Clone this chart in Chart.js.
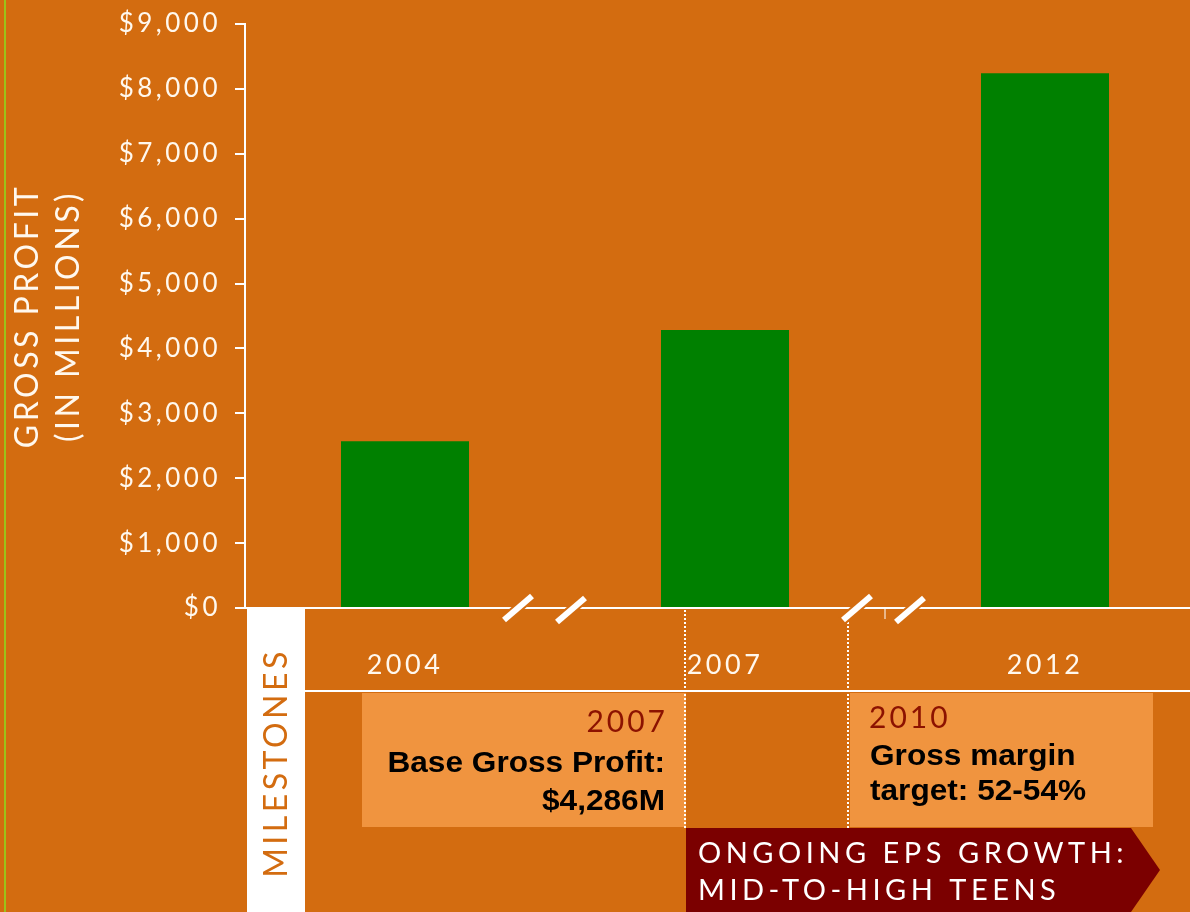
<!DOCTYPE html>
<html>
<head>
<meta charset="utf-8">
<script src="https://cdn.jsdelivr.net/npm/chart.js@4"></script>
<style>
	html, body { margin: 0; padding: 0; background: #D36C10; }
	canvas { display: block; }
</style>
</head>
<body>
<canvas id="profit-chart" width="1190" height="912"></canvas>
<script>
// Chart data
const years = ['2004', '2007', '2012'];
const grossProfit = [2570, 4286, 8240]; // $ millions
const yMax = 9000;
const yStep = 1000;
const axisTitle = ['GROSS PROFIT', '(IN MILLIONS)'];
const milestoneBase = ['2007', 'Base Gross Profit:', '$4,286M'];
const milestoneMargin = ['2010', 'Gross margin', 'target: 52-54%'];
const epsGrowth = ['ONGOING EPS GROWTH:', 'MID-TO-HIGH TEENS'];

const ORANGE = '#D36C10';
const LIGHT = '#F0943F';
const DARKRED = '#7B0000';
const CREAM = '#FFF8EE';
const FONT = 'Lato, "Open Sans", sans-serif';

// background + letter spacing for the thin caps font
const backdrop = {
	id: 'backdrop',
	beforeLayout(chart) {
		chart.ctx.letterSpacing = '3.5px';
	},
	afterLayout(chart) {
		// the x axis runs a bit past the right edge of the page
		const x = chart.scales.x;
		x.right = x.left + 960;
		x.width = 960;
		x.configure();
		// plot area starts right at the top tick
		const y = chart.scales.y;
		y.top = 24;
		y.height = y.bottom - y.top;
		y.configure();
		chart.chartArea.top = 24;
		chart.chartArea.height = chart.chartArea.bottom - 24;
	},
	beforeDraw(chart) {
		const ctx = chart.ctx;
		ctx.letterSpacing = '3.5px';
		ctx.save();
		ctx.fillStyle = ORANGE;
		ctx.fillRect(0, 0, chart.width, chart.height);
		// thin green rule at the far left
		ctx.fillStyle = '#9BC31A';
		ctx.fillRect(4, 0, 2, chart.height);
		ctx.restore();
	}
};

function slash(ctx, cx, cy) {
	ctx.lineCap = 'butt';
	ctx.strokeStyle = ORANGE;
	ctx.lineWidth = 10;
	ctx.beginPath();
	ctx.moveTo(cx - 15, cy + 13);
	ctx.lineTo(cx + 15, cy - 13);
	ctx.stroke();
	ctx.strokeStyle = '#FFFFFF';
	ctx.lineWidth = 6;
	ctx.beginPath();
	ctx.moveTo(cx - 14, cy + 12);
	ctx.lineTo(cx + 14, cy - 12);
	ctx.stroke();
}

function stretched(ctx, text, x, y, align, sx) {
	ctx.save();
	ctx.translate(x, y);
	ctx.scale(sx, 1);
	ctx.textAlign = align;
	ctx.fillText(text, 0, 0);
	ctx.restore();
}

// milestones band, boxes, arrow and axis breaks
const milestones = {
	id: 'milestones',
	afterDraw(chart) {
		const ctx = chart.ctx;
		const x = chart.scales.x;
		const area = chart.chartArea;
		const base = area.bottom;
		const W = chart.width, H = chart.height;
		ctx.save();

		// band bottom rule
		ctx.fillStyle = '#FFFFFF';
		ctx.fillRect(305, 690, W - 305, 2);

		// white panel with MILESTONES
		ctx.fillRect(247, base + 1, 58, H - base);
		ctx.save();
		ctx.translate(277, 765);
		ctx.rotate(-Math.PI / 2);
		ctx.letterSpacing = '3.5px';
		ctx.fillStyle = ORANGE;
		ctx.font = '32px ' + FONT;
		ctx.textAlign = 'center';
		ctx.textBaseline = 'middle';
		ctx.fillText('MILESTONES', 2, 0);
		ctx.restore();

		// light boxes
		ctx.fillStyle = LIGHT;
		ctx.fillRect(362, 693, 324, 134);
		ctx.fillRect(850, 693, 303, 134);

		// arrow
		ctx.fillStyle = DARKRED;
		ctx.beginPath();
		ctx.moveTo(686, 828);
		ctx.lineTo(1131, 828);
		ctx.lineTo(1160, 870);
		ctx.lineTo(1131, 912);
		ctx.lineTo(686, 912);
		ctx.closePath();
		ctx.fill();

		// dotted guides
		ctx.strokeStyle = '#FFFFFF';
		ctx.lineWidth = 2;
		ctx.setLineDash([2, 2]);
		ctx.beginPath();
		ctx.moveTo(685, base + 2);
		ctx.lineTo(685, 828);
		ctx.moveTo(848, base + 14);
		ctx.lineTo(848, 828);
		ctx.stroke();
		ctx.setLineDash([]);

		// axis breaks
		const b1 = (x.getPixelForValue(0) + x.getPixelForValue(1)) / 2;
		const b2 = (x.getPixelForValue(1) + x.getPixelForValue(2)) / 2;
		slash(ctx, b1 - 47, base);
		slash(ctx, b1 + 6, base + 2);
		slash(ctx, b2 - 28, base);
		slash(ctx, b2 + 25, base + 2);
		// small category tick
		ctx.fillStyle = '#FFFFFF';
		ctx.fillRect(b2 - 0.5, base, 1, 11);

		// box texts
		ctx.textBaseline = 'alphabetic';
		ctx.letterSpacing = '3px';
		ctx.fillStyle = '#8C1200';
		ctx.font = '30px ' + FONT;
		ctx.textAlign = 'right';
		ctx.fillText(milestoneBase[0], 668, 732);
		ctx.textAlign = 'left';
		ctx.fillText(milestoneMargin[0], 869, 728);

		ctx.letterSpacing = '0px';
		ctx.fillStyle = '#000000';
		ctx.font = 'bold 29px "Liberation Sans", Arial, sans-serif';
		stretched(ctx, milestoneBase[1], 665, 772, 'right', 1.09);
		stretched(ctx, milestoneBase[2], 665, 810, 'right', 1.09);
		stretched(ctx, milestoneMargin[1], 870, 765, 'left', 1.09);
		stretched(ctx, milestoneMargin[2], 870, 800, 'left', 1.09);

		// arrow text
		ctx.letterSpacing = '4.5px';
		ctx.fillStyle = '#FFFFFF';
		ctx.font = '29px ' + FONT;
		ctx.textAlign = 'left';
		ctx.fillText(epsGrowth[0], 698, 863);
		ctx.fillText(epsGrowth[1], 698, 900);

		ctx.restore();
	}
};

const profitCtx = document.getElementById('profit-chart');
new Chart(profitCtx, {
	type: 'bar',
	data: {
		labels: years,
		datasets: [{
			label: 'Gross profit',
			data: grossProfit,
			backgroundColor: '#008000',
			borderWidth: 0,
			barPercentage: 0.4,
			categoryPercentage: 1
		}]
	},
	options: {
		responsive: false,
		animation: false,
		devicePixelRatio: 1,
		layout: {
			padding: { top: 18, right: 0, left: 0, bottom: 0 }
		},
		plugins: {
			legend: { display: false },
			tooltip: { enabled: false }
		},
		scales: {
			x: {
				grid: { display: false, drawTicks: false },
				border: { color: '#FFFFFF', width: 2 },
				ticks: {
					color: CREAM,
					padding: 41,
					font: { family: FONT, size: 27 }
				},
				afterFit(scale) { scale.height = 304; }
			},
			y: {
				min: 0,
				max: yMax,
				grid: {
					drawOnChartArea: false,
					color: '#FFFFFF',
					lineWidth: 2,
					tickLength: 10
				},
				border: { color: '#FFFFFF', width: 2 },
				ticks: {
					stepSize: yStep,
					color: CREAM,
					padding: 14,
					font: { family: FONT, size: 26 },
					callback: (v) => '$' + v.toLocaleString('en-US')
				},
				title: {
					display: true,
					text: axisTitle,
					color: CREAM,
					padding: { top: 7, bottom: 0 },
					font: { family: FONT, size: 32, lineHeight: 1.28 }
				},
				afterFit(scale) { scale.width = 245; }
			}
		}
	},
	plugins: [backdrop, milestones]
});
</script>
</body>
</html>
